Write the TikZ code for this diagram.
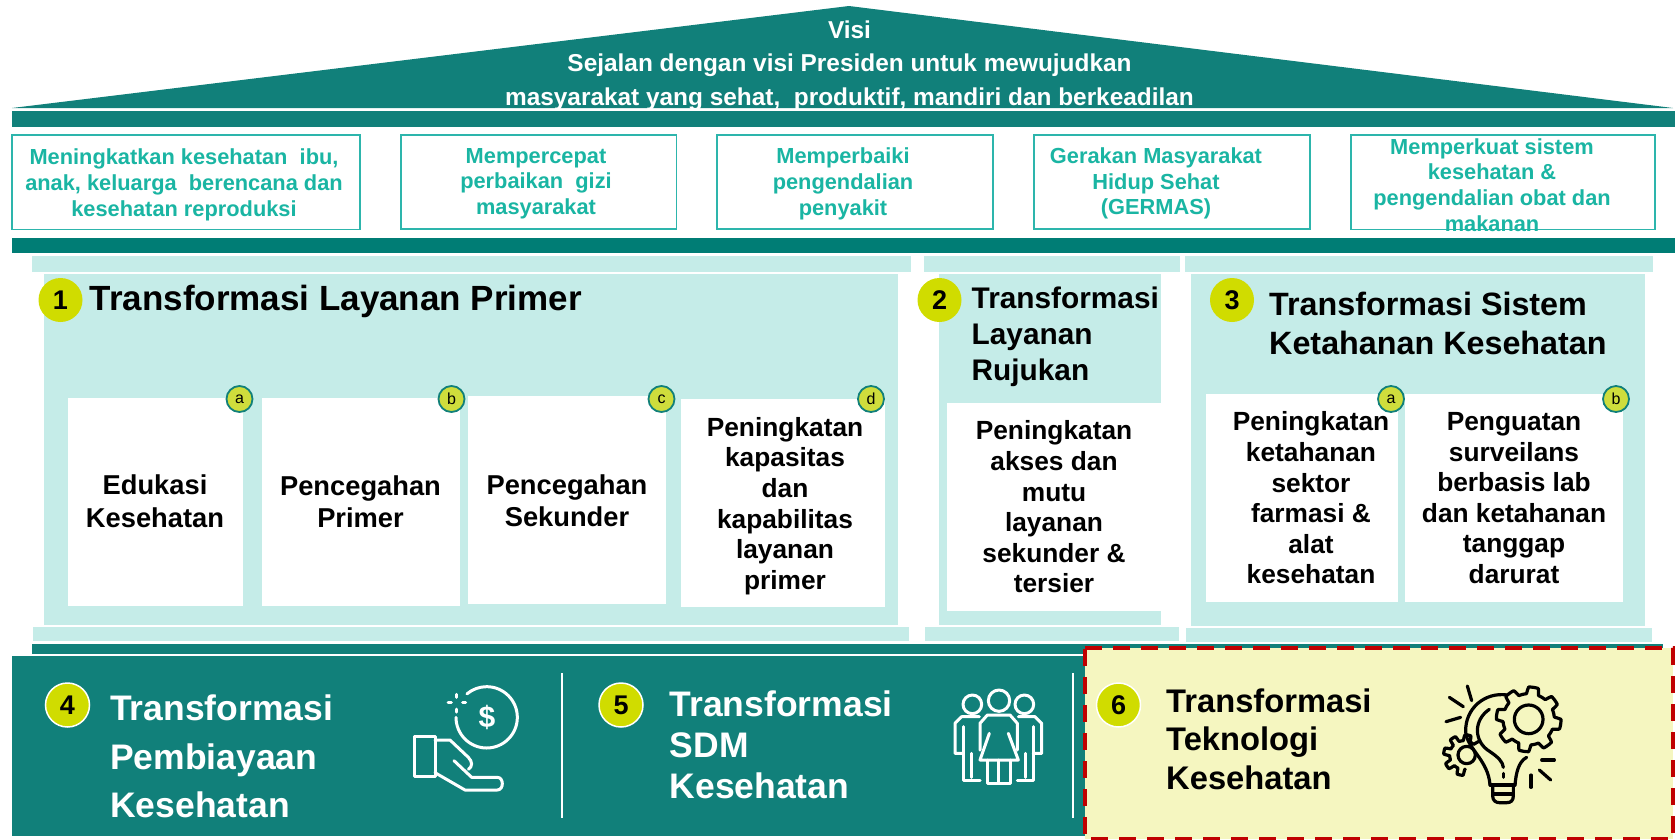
\documentclass[tikz,border=0pt]{standalone}
\usepackage{fontspec}
\setmainfont{Liberation Sans}
\usetikzlibrary{arrows, arrows.meta}
\usetikzlibrary{calc}
\definecolor{roofteal}{HTML}{11807A}
\definecolor{barteal}{HTML}{007D75}
\definecolor{paleteal}{HTML}{C5ECE8}
\definecolor{goalgreen}{HTML}{1AB5A3}
\definecolor{goalline}{HTML}{2DB5AC}
\definecolor{numyellow}{HTML}{D0DC00}
\definecolor{letteryellow}{HTML}{CFDD3C}
\definecolor{cream}{HTML}{F5F6C0}
\definecolor{dashred}{HTML}{C00000}
\tikzset{
  roofbar/.style={fill=roofteal},
  palebar/.style={fill=paleteal},
  goalbox/.style={draw=goalline, line width=1.6pt, fill=white},
  goaltext/.style={align=center, inner sep=0pt, text=goalgreen, font=\bfseries\fontsize{21.8}{25.7}\selectfont},
  rooftext/.style={align=center, inner sep=0pt, text=white, font=\bfseries\fontsize{24.4}{33.5}\selectfont},
  cardtext/.style={align=center, inner sep=0pt, font=\bfseries\fontsize{26.3}{30.6}\selectfont},
  titletext/.style={align=left, anchor=west, inner sep=0pt},
  numdot/.style={circle, fill=numyellow, inner sep=0pt, minimum size=44pt, font=\bfseries\fontsize{27}{27}\selectfont},
  numring/.style={numdot, draw=white, line width=1.5pt},
  letterdot/.style={circle, draw=roofteal, line width=1.8pt, fill=letteryellow, inner sep=0pt, minimum size=26pt, font=\fontsize{16}{16}\selectfont},
  iconwhite/.style={draw=white, line width=3pt, line join=round, line cap=round},
  iconblack/.style={draw=black, line width=3.2pt, line join=round, line cap=round},
}
\begin{document}
\begin{tikzpicture}[x=1pt, y=-1pt]
    \useasboundingbox (0,0) rectangle (1675,839);

    \fill[roofbar] (12,108) -- (849,6) -- (1673,108) -- cycle;
    \node[rooftext] (vision) at (849.5,65.5) {Visi\\Sejalan dengan visi Presiden untuk mewujudkan\\masyarakat yang sehat,~ produktif, mandiri dan berkeadilan};
    \fill[roofbar] (12,111) rectangle (1675,127);

    \draw[goalbox] (12,135) rectangle (360,229.5);
    \draw[goalbox] (401,135) rectangle (676.5,229);
    \draw[goalbox] (717,135) rectangle (993,229);
    \draw[goalbox] (1034,135) rectangle (1310,229);
    \draw[goalbox] (1351,135) rectangle (1655,229.5);
    \node[goaltext] (goalA) at (184,185) {Meningkatkan kesehatan~ ibu,\\anak, keluarga~ berencana dan\\kesehatan reproduksi};
    \node[goaltext] (goalB) at (536,183.5) {Mempercepat\\perbaikan~ gizi\\masyarakat};
    \node[goaltext] (goalC) at (843,184) {Memperbaiki\\pengendalian\\penyakit};
    \node[goaltext] (goalD) at (1156,183.5) {Gerakan Masyarakat\\Hidup Sehat\\(GERMAS)};
    \node[goaltext] (goalE) at (1492,185) {Memperkuat sistem\\kesehatan \&\\pengendalian obat dan\\makanan};

    \fill[barteal] (12,238) rectangle (1675,253);

    \fill[palebar] (32,256) rectangle (911,272);
    \fill[palebar] (924,256) rectangle (1180,272);
    \fill[palebar] (1185,256) rectangle (1653,272);

    \fill[palebar] (44,274) rectangle (898,625);
    \fill[palebar] (939,274) rectangle (1161,625);
    \fill[palebar] (1191,274) rectangle (1645,626);

    \fill[white] (68,398) rectangle (243,606);
    \fill[white] (262,398) rectangle (460,606);
    \fill[white] (468,396) rectangle (666,604);
    \fill[white] (681,399) rectangle (885,607);
    \fill[white] (947,403) rectangle (1161,611);
    \fill[white] (1206,394) rectangle (1398,602);
    \fill[white] (1405,394) rectangle (1623,602);

    \fill[palebar] (33,627) rectangle (909,641);
    \fill[palebar] (925,627) rectangle (1179,641);
    \fill[palebar] (1186,628) rectangle (1652,642);

    \node[numdot] (numA) at (60.5,300) {1};
    \node[numdot] (numB) at (939.5,300) {2};
    \node[numdot] (numC) at (1232,300) {3};

    \node[titletext, font=\bfseries\fontsize{35}{36}\selectfont] (titleA) at (89.5,301) {Transformasi Layanan Primer};
    \node[titletext, font=\bfseries\fontsize{29.8}{36}\selectfont] (titleB) at (971.5,336.5) {Transformasi\\Layanan\\Rujukan};
    \node[titletext, font=\bfseries\fontsize{32.3}{38.5}\selectfont] (titleC) at (1269,323.5) {Transformasi Sistem\\Ketahanan Kesehatan};

    \node[cardtext, font=\bfseries\fontsize{27.3}{32.5}\selectfont] (cardA) at (155,501) {Edukasi\\Kesehatan};
    \node[cardtext, font=\bfseries\fontsize{27.3}{32.5}\selectfont] (cardB) at (360.5,501.5) {Pencegahan\\Primer};
    \node[cardtext, font=\bfseries\fontsize{27.3}{32.5}\selectfont] (cardC) at (567,500.5) {Pencegahan\\Sekunder};
    \node[cardtext] (cardD) at (785,506) {Peningkatan\\kapasitas\\dan\\kapabilitas\\layanan\\primer};
    \node[cardtext] (cardE) at (1054,507) {Peningkatan\\akses dan\\mutu\\layanan\\sekunder \&\\tersier};
    \node[cardtext] (cardF) at (1311,498) {Peningkatan\\ketahanan\\sektor\\farmasi \&\\alat\\kesehatan};
    \node[cardtext] (cardG) at (1514,498) {Penguatan\\surveilans\\berbasis lab\\dan ketahanan\\tanggap\\darurat};

    \node[letterdot] (letterA) at (239.5,399) {a};
    \node[letterdot] (letterB) at (451.5,399) {b};
    \node[letterdot] (letterC) at (661.5,399) {c};
    \node[letterdot] (letterD) at (871,399) {d};
    \node[letterdot] (letterE) at (1391,399) {a};
    \node[letterdot] (letterF) at (1616,399) {b};

    \fill[roofbar] (32,644) rectangle (1663,654);
    \fill[roofbar] (12,656) rectangle (1090,836);
    \draw[white, line width=1.5pt] (562,673) -- (562,818);
    \draw[white, line width=1.5pt] (1073,673) -- (1073,818);
    \path[fill=cream] (1085,648) rectangle (1673,839);
    \draw[dashred, line width=3.5pt, dash pattern=on 17pt off 11pt] (1085,648) -- (1673,648) -- (1673,839) -- (1085,839) -- cycle;

    \node[numring] (numD) at (67.5,705) {4};
    \node[numring] (numE) at (621,705) {5};
    \node[numring] (numF) at (1118.5,705) {6};

    \node[titletext, text=white, font=\bfseries\fontsize{35.5}{48.5}\selectfont] (titleD) at (110,756.5) {Transformasi\\Pembiayaan\\Kesehatan};
    \node[titletext, text=white, font=\bfseries\fontsize{35.5}{41}\selectfont] (titleE) at (669.5,745) {Transformasi\\SDM\\Kesehatan};
    \node[titletext, font=\bfseries\fontsize{32.7}{38.5}\selectfont] (titleF) at (1166,739) {Transformasi\\Teknologi\\Kesehatan};

    \begin{scope}[shift={(400,660)}, scale=1/3]
      \draw[iconwhite] (168,172) arc[start angle=180, end angle=-130, radius=92];
      \draw[iconwhite] (170,103) -- (170,112);
      \draw[iconwhite] (144,128) -- (154,128);
      \draw[iconwhite] (188,128) -- (197,128);
      \draw[iconwhite] (170,147) -- (170,156);
      \node[text=white, inner sep=0pt, font=\bfseries\fontsize{30}{30}\selectfont] (dollar) at (261,173) {\$};
      \draw[iconwhite, line cap=butt] (42,228) rectangle (105,350);
      \draw[iconwhite] (105,240) -- (150,240) -- (205,292) .. controls (218,305) and (218,320) .. (205,328);
      \draw[iconwhite] (162,302) -- (215,352) -- (292,352) .. controls (312,352) and (312,390) .. (292,390) -- (195,390) -- (105,338);
    \end{scope}

    \begin{scope}[shift={(930,670)}, scale=1/3]
      \draw[iconwhite] (127,103) circle (28);
      \draw[iconwhite] (207,92) circle (32);
      \draw[iconwhite] (283,103) circle (28);
      \draw[iconwhite] (148,140) -- (95,140) -- (75,160) -- (75,250) -- (100,250);
      \draw[iconwhite] (100,170) -- (100,330) -- (150,330);
      \draw[iconwhite] (125,250) -- (125,322);
      \draw[iconwhite] (265,140) -- (315,140) -- (335,160) -- (335,250) -- (310,250);
      \draw[iconwhite] (310,170) -- (310,330) -- (262,330);
      \draw[iconwhite] (285,250) -- (285,322);
      \draw[iconwhite] (150,240) -- (150,160) -- (172,135) -- (240,135) -- (262,160) -- (262,240);
      \draw[iconwhite] (178,190) -- (150,270) -- (265,270) -- (235,190);
      \draw[iconwhite] (172,270) -- (172,340) -- (240,340) -- (240,270);
      \draw[iconwhite] (205,270) -- (205,340);
    \end{scope}

    \begin{scope}[shift={(1430,670)}, scale=1/3]
      \draw[iconblack] (112,48) -- (125,92);
      \draw[iconblack] (58,82) -- (100,110);
      \draw[iconblack] (48,155) -- (92,142);
      \draw[iconblack] (335,270) -- (373,270);
      \draw[iconblack] (328,300) -- (362,330);
      \draw[iconblack] (303,315) -- (303,352);
      \draw[iconblack] (232,75) .. controls (165,65) and (105,115) .. (107,185) .. controls (110,235) and (175,270) .. (180,345);
      \draw[iconblack] (290,262) .. controls (265,275) and (258,310) .. (255,345);
      \draw[iconblack] (180,345) -- (255,345);
      \draw[iconblack] (188,345) -- (188,378) .. controls (188,392) and (198,398) .. (208,398) -- (230,398) .. controls (242,398) and (250,392) .. (250,378) -- (250,345);
      \draw[iconblack] (188,372) -- (250,372);
      \draw[iconblack] (178,118) .. controls (130,150) and (130,215) .. (180,245) .. controls (205,262) and (218,275) .. (220,292);
      \draw[iconblack] (220,310) -- (220,322);
      \draw[iconblack] (296,148) circle (43);
      \draw[iconblack, shift={(296,148)}, domain=0:360, samples=241] plot (\x:{87+10*max(-1,min(1,3*sin(8*\x+20)))}) -- cycle;
      \draw[iconblack] (110,255) circle (26);
      \draw[iconblack, shift={(102,255)}, domain=85:318, samples=120] plot (\x:{52+9*max(-1,min(1,3*sin(8*\x)))});
    \end{scope}
  \end{tikzpicture}
\end{document}
